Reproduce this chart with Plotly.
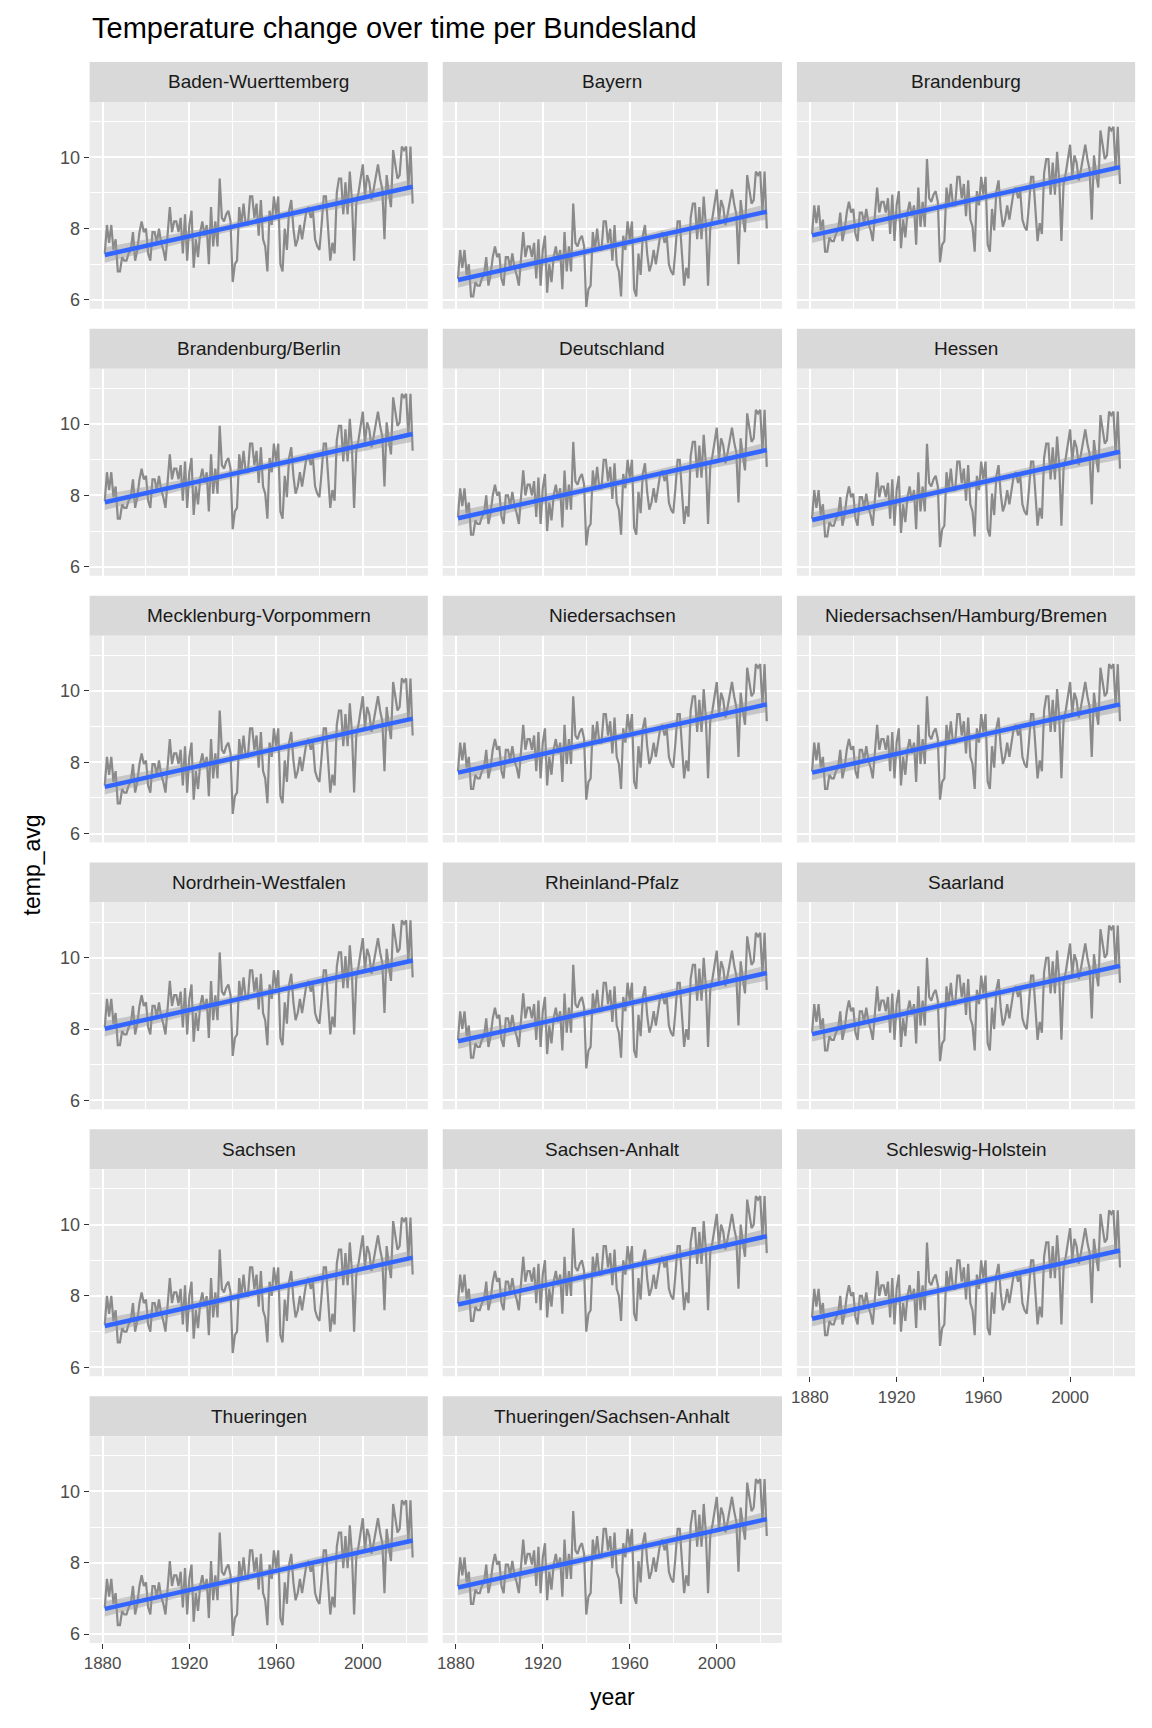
import numpy as np
import plotly.graph_objects as go

# Germany-wide annual mean temperature, 1881-2023
years = list(range(1881, 2024))
deutschland = [7.4, 8.2, 7.7, 8.2, 7.5, 7.8, 6.9, 6.9, 7.3, 7.2,
               7.2, 7.4, 7.5, 8.0, 7.2, 7.5, 8.0, 8.3, 8.0, 8.1,
               7.4, 7.2, 8.0, 8.0, 7.7, 8.1, 7.7, 7.5, 7.2, 8.1,
               8.7, 8.0, 8.3, 8.3, 8.0, 8.4, 7.4, 8.5, 7.2, 8.2,
               8.6, 7.0, 7.8, 7.3, 8.0, 8.3, 7.9, 8.2, 7.1, 8.7,
               7.6, 8.3, 7.6, 9.5, 8.4, 8.3, 8.5, 8.6, 8.3, 6.6,
               7.1, 7.2, 8.7, 8.2, 8.8, 8.2, 8.2, 9.0, 9.0, 8.4,
               8.8, 7.9, 8.9, 7.8, 7.6, 6.9, 8.6, 8.2, 9.0, 8.5,
               9.0, 7.1, 6.9, 8.1, 7.5, 8.6, 8.9, 8.1, 7.6, 7.8,
               8.2, 7.8, 8.2, 8.6, 8.7, 8.4, 8.6, 7.8, 7.6, 7.5,
               8.2, 9.0, 9.0, 8.1, 7.2, 7.7, 7.4, 9.1, 9.5, 9.5,
               8.5, 9.4, 8.5, 9.7, 8.9, 7.2, 8.8, 9.1, 9.5, 9.9,
               9.0, 9.6, 9.4, 8.9, 9.2, 9.5, 9.9, 9.5, 9.2, 7.8,
               9.6, 9.1, 8.7, 10.3, 9.9, 9.5, 9.6, 10.4, 10.3, 10.4,
               9.2, 10.4, 8.8]

states = ["Baden-Wuerttemberg", "Bayern", "Brandenburg",
          "Brandenburg/Berlin", "Deutschland", "Hessen",
          "Mecklenburg-Vorpommern", "Niedersachsen", "Niedersachsen/Hamburg/Bremen",
          "Nordrhein-Westfalen", "Rheinland-Pfalz", "Saarland",
          "Sachsen", "Sachsen-Anhalt", "Schleswig-Holstein",
          "Thueringen", "Thueringen/Sachsen-Anhalt"]
# level difference of each state vs. Deutschland
offsets = [-0.1, -0.8, 0.45, 0.45, 0.0, -0.05, -0.05, 0.35, 0.35,
           0.65, 0.3, 0.5, -0.2, 0.4, 0.0, -0.65, -0.05]

W, H = 1152, 1728
col_x = [(76, 416), (431, 772), (787, 1127)]
row_top0, pitch, strip_h, panel_h = 54, 267, 40, 207

fig = go.Figure()
x = np.array(years, dtype=float)
layout = {}
for i, (name, off) in enumerate(zip(states, offsets)):
    r, c = divmod(i, 3)
    k = i + 1
    xa, ya = f"x{k}", f"y{k}"
    y = np.array(deutschland) + off
    # linear fit with 95% band
    b, a = np.polyfit(x, y, 1)
    fit = a + b * x
    n = len(x)
    s = np.sqrt(np.sum((y - fit) ** 2) / (n - 2))
    se = s * np.sqrt(1 / n + (x - x.mean()) ** 2 / np.sum((x - x.mean()) ** 2))
    lo, hi = fit - 1.98 * se, fit + 1.98 * se
    fig.add_trace(go.Scatter(x=years, y=y, mode="lines", line=dict(color="#8A8A8A", width=2.2),
                             xaxis=xa, yaxis=ya, showlegend=False, hoverinfo="skip"))
    fig.add_trace(go.Scatter(x=list(x) + list(x[::-1]), y=list(hi) + list(lo[::-1]), fill="toself",
                             fillcolor="rgba(153,153,153,0.45)", line=dict(width=0),
                             xaxis=xa, yaxis=ya, showlegend=False, hoverinfo="skip"))
    fig.add_trace(go.Scatter(x=years, y=fit, mode="lines", line=dict(color="#3366FF", width=4.5),
                             xaxis=xa, yaxis=ya, showlegend=False))

    x0, x1 = col_x[c]
    st = row_top0 + r * pitch
    pt, pb = st + strip_h, st + strip_h + panel_h
    show_x = (r == 5) or (r == 4 and c == 2)
    sfx = "" if k == 1 else str(k)
    layout["xaxis" + sfx] = dict(domain=[x0 / W, x1 / W], anchor=ya, range=[1874, 2030],
                                 tickvals=[1880, 1920, 1960, 2000], showticklabels=show_x,
                                 ticks="outside" if show_x else "", ticklen=5, tickcolor="#333333",
                                 gridcolor="white", gridwidth=1.6, zeroline=False,
                                 minor=dict(tickvals=[1900, 1940, 1980, 2020], showgrid=True,
                                            gridcolor="white", gridwidth=0.7),
                                 tickfont=dict(size=17, color="#4D4D4D"))
    layout["yaxis" + sfx] = dict(domain=[1 - pb / H, 1 - pt / H], anchor=xa, range=[5.75, 11.55],
                                 tickvals=[6, 8, 10], showticklabels=(c == 0),
                                 ticks="outside" if c == 0 else "", ticklen=5, tickcolor="#333333",
                                 gridcolor="white", gridwidth=1.6, zeroline=False,
                                 minor=dict(tickvals=[7, 9, 11], showgrid=True,
                                            gridcolor="white", gridwidth=0.7),
                                 tickfont=dict(size=18, color="#4D4D4D"))
    fig.add_shape(type="rect", xref="paper", yref="paper", x0=x0 / W, x1=x1 / W,
                  y0=1 - pt / H, y1=1 - st / H, fillcolor="#D9D9D9", line=dict(width=0), layer="below")
    fig.add_shape(type="rect", xref="paper", yref="paper", x0=x0 / W, x1=x1 / W,
                  y0=1 - pb / H, y1=1 - pt / H, fillcolor="#EBEBEB", line=dict(width=0), layer="below")
    fig.add_annotation(text=name, xref="paper", yref="paper", x=(x0 + x1) / 2 / W,
                       y=1 - (st + strip_h / 2) / H, xanchor="center", yanchor="middle",
                       showarrow=False, font=dict(size=19, color="#1A1A1A"))

fig.update_layout(**layout)
fig.update_layout(width=W, height=H, margin=dict(l=0, r=0, t=0, b=0),
                  plot_bgcolor="rgba(0,0,0,0)", paper_bgcolor="white",
                  font=dict(family="Liberation Sans, Arial, sans-serif"))
fig.add_annotation(text="Temperature change over time per Bundesland", xref="paper", yref="paper",
                   x=76 / W, y=1 - 20 / H, xanchor="left", yanchor="middle", showarrow=False,
                   font=dict(size=29, color="black"))
fig.add_annotation(text="year", xref="paper", yref="paper", x=602 / W, y=1 - 1690 / H,
                   xanchor="center", yanchor="middle", showarrow=False,
                   font=dict(size=23, color="black"))
fig.add_annotation(text="temp_avg", xref="paper", yref="paper", x=18 / W, y=1 - 857 / H,
                   xanchor="center", yanchor="middle", textangle=-90, showarrow=False,
                   font=dict(size=23, color="black"))
fig.write_html("out.html")
